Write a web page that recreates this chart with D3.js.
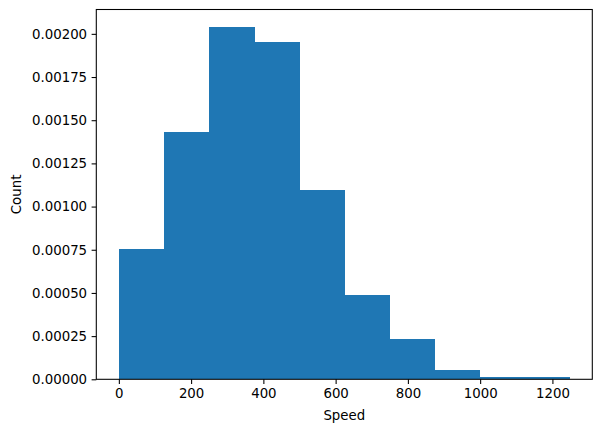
<!DOCTYPE html>
<html>
<head>
<meta charset="utf-8">
<script src="https://cdn.jsdelivr.net/npm/d3@7"></script>
<style>
  body { margin: 0; background: #fff; }
  svg text { font-family: "DejaVu Sans", sans-serif; fill: #000; }
</style>
</head>
<body>
<div id="chart"></div>
<script>
// histogram bins (density)
var binEdges = [0, 124.8, 249.6, 374.4, 499.2, 624, 748.8, 873.6, 998.4, 1123.2, 1248];
var densities = [0.000752, 0.001431, 0.002039, 0.001952, 0.001095, 0.000488, 0.000233, 0.0000538, 0.000012, 0.000011];
var xTicks = [0, 200, 400, 600, 800, 1000, 1200];
var yTicks = [0, 0.00025, 0.0005, 0.00075, 0.001, 0.00125, 0.0015, 0.00175, 0.002];

var W = 602, H = 432;
var margin = { top: 9.5, right: 9.7, bottom: 52.7, left: 96.3 };
var iw = W - margin.left - margin.right;
var ih = H - margin.top - margin.bottom;

var svg = d3.select("#chart").append("svg")
  .attr("width", W).attr("height", H);

var g = svg.append("g")
  .attr("transform", `translate(${margin.left},${margin.top})`);

var xMin = binEdges[0], xMax = binEdges[binEdges.length - 1];
var pad = (xMax - xMin) * 0.05;
var x = d3.scaleLinear().domain([xMin - pad, xMax + pad]).range([0, iw]);
var yMax = d3.max(densities) * 1.05;
var y = d3.scaleLinear().domain([0, yMax]).range([ih, 0]);

var bins = densities.map(function (d, i) {
  return { x0: binEdges[i], x1: binEdges[i + 1], v: d };
});

g.selectAll("rect.bar")
  .data(bins).enter()
  .append("rect")
  .attr("class", "bar")
  .attr("x", d => x(d.x0))
  .attr("width", d => x(d.x1) - x(d.x0) + 0.5)
  .attr("y", d => y(d.v))
  .attr("height", d => y(0) - y(d.v))
  .attr("fill", "#1f77b4")
  .attr("shape-rendering", "crispEdges");

var xAxis = d3.axisBottom(x).tickValues(xTicks).tickSize(4.7).tickPadding(4.5).tickSizeOuter(0)
  .tickFormat(d3.format("d"));
var yAxis = d3.axisLeft(y).tickValues(yTicks).tickSize(4.7).tickPadding(4.5).tickSizeOuter(0)
  .tickFormat(d3.format(".5f"));

var gx = g.append("g").attr("transform", `translate(0,${ih})`).call(xAxis);
var gy = g.append("g").call(yAxis);
[gx, gy].forEach(function (a) {
  a.select(".domain").remove();
  a.selectAll("line").attr("stroke", "#000").attr("stroke-width", 1.07);
  a.selectAll("text").style("font-size", "13.33px").attr("fill", "#000");
});

// spines
g.append("rect")
  .attr("x", 0).attr("y", 0).attr("width", iw).attr("height", ih)
  .attr("fill", "none").attr("stroke", "#000").attr("stroke-width", 1.07);

svg.append("text")
  .attr("x", margin.left + iw / 2).attr("y", 420)
  .attr("text-anchor", "middle").style("font-size", "13.33px")
  .text("Speed");

svg.append("text")
  .attr("transform", `translate(21,${margin.top + ih / 2}) rotate(-90)`)
  .attr("text-anchor", "middle").style("font-size", "13.33px")
  .text("Count");
</script>
</body>
</html>
